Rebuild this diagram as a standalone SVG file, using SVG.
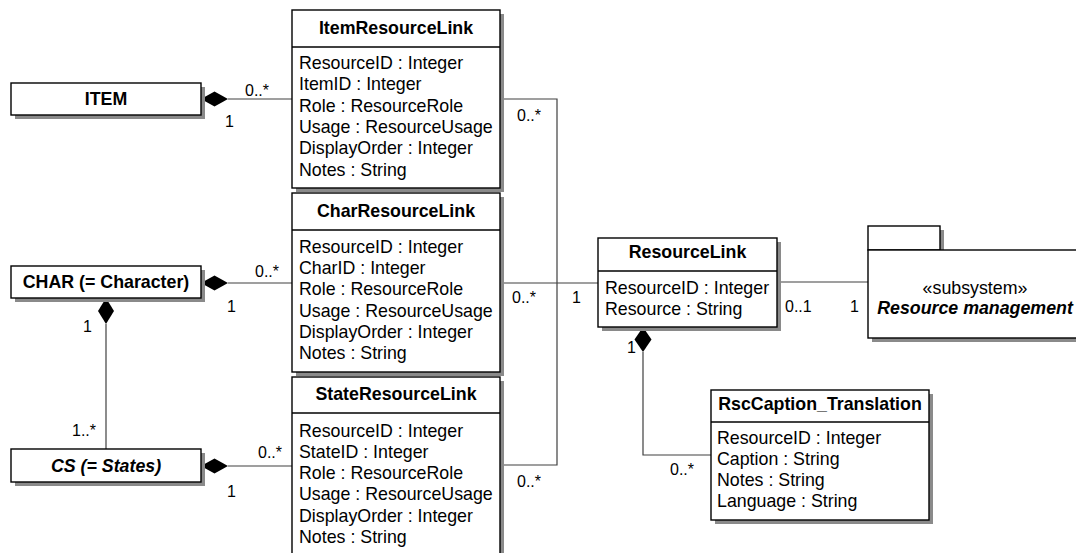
<svg xmlns="http://www.w3.org/2000/svg" width="1076" height="553" viewBox="0 0 1076 553">
<style>
.box{fill:#fff;stroke:#000;stroke-width:1.4}
.sh{fill:#8a8a8a}
.t{font-family:"Liberation Sans",Arial,sans-serif;font-size:17.8px;fill:#000}
.b{font-weight:bold}
.c{text-anchor:middle}
.i{font-style:italic}
.lbl{font-family:"Liberation Sans",Arial,sans-serif;font-size:16px;fill:#000}
.ln{fill:none;stroke:#404040;stroke-width:1.2}
.dia{fill:#000}
</style>
<rect width="1076" height="553" fill="#fff"/>
<g id="connectors">
  <polyline class="ln" points="228,99 292,99"/>
  <polyline class="ln" points="228,283 292,283"/>
  <polyline class="ln" points="228,466 292,466"/>
  <polyline class="ln" points="106,324 106,449"/>
  <polyline class="ln" points="500,99 557,99 557,465 500,465"/>
  <polyline class="ln" points="500,283 598,283"/>
  <polyline class="ln" points="777,282 868,282"/>
  <polyline class="ln" points="643,352 643,455 711,455"/>
  <polygon class="dia" points="201,99 214.5,91.5 228,99 214.5,106.5"/>
  <polygon class="dia" points="201,283 214.5,275.5 228,283 214.5,290.5"/>
  <polygon class="dia" points="201,466 214.5,458.5 228,466 214.5,473.5"/>
  <polygon class="dia" points="106,298 114,311 106,324 98,311"/>
  <polygon class="dia" points="643,327 651.5,339.5 643,352 634.5,339.5"/>
  <text class="lbl" x="245" y="96">0..*</text>
  <text class="lbl" x="225" y="127">1</text>
  <text class="lbl" x="255" y="277">0..*</text>
  <text class="lbl" x="227" y="312">1</text>
  <text class="lbl" x="83" y="332">1</text>
  <text class="lbl" x="72" y="436">1..*</text>
  <text class="lbl" x="258" y="458">0..*</text>
  <text class="lbl" x="227" y="497">1</text>
  <text class="lbl" x="517" y="121">0..*</text>
  <text class="lbl" x="512" y="303">0..*</text>
  <text class="lbl" x="572" y="303">1</text>
  <text class="lbl" x="517" y="487">0..*</text>
  <text class="lbl" x="785" y="312">0..1</text>
  <text class="lbl" x="850" y="312">1</text>
  <text class="lbl" x="627" y="353">1</text>
  <text class="lbl" x="670" y="475">0..*</text>
</g>
<g id="item">
  <rect class="sh" x="15" y="87" width="190" height="32"/>
  <rect class="box" x="11" y="83" width="190" height="32"/>
  <text class="t b c" x="106" y="105">ITEM</text>
</g>
<g id="char">
  <rect class="sh" x="15" y="270" width="190" height="32"/>
  <rect class="box" x="11" y="266" width="190" height="32"/>
  <text class="t b c" x="106" y="288">CHAR (= Character)</text>
</g>
<g id="cs">
  <rect class="sh" x="15" y="453" width="190" height="33"/>
  <rect class="box" x="11" y="449" width="190" height="33"/>
  <text class="t b i c" x="106" y="472">CS (= States)</text>
</g>
<g id="itemResourceLink">
  <rect class="sh" x="296" y="14" width="208" height="178"/>
  <rect class="box" x="292" y="10" width="208" height="178"/>
  <line class="box" x1="292" y1="47" x2="500" y2="47"/>
  <text class="t b c" x="396" y="34">ItemResourceLink</text>
  <text class="t" x="299" y="69">ResourceID : Integer</text>
  <text class="t" x="299" y="90">ItemID : Integer</text>
  <text class="t" x="299" y="112">Role : ResourceRole</text>
  <text class="t" x="299" y="133">Usage : ResourceUsage</text>
  <text class="t" x="299" y="154">DisplayOrder : Integer</text>
  <text class="t" x="299" y="176">Notes : String</text>
</g>
<g id="charResourceLink">
  <rect class="sh" x="296" y="197" width="208" height="179"/>
  <rect class="box" x="292" y="193" width="208" height="179"/>
  <line class="box" x1="292" y1="230" x2="500" y2="230"/>
  <text class="t b c" x="396" y="217">CharResourceLink</text>
  <text class="t" x="299" y="253">ResourceID : Integer</text>
  <text class="t" x="299" y="274">CharID : Integer</text>
  <text class="t" x="299" y="295">Role : ResourceRole</text>
  <text class="t" x="299" y="317">Usage : ResourceUsage</text>
  <text class="t" x="299" y="338">DisplayOrder : Integer</text>
  <text class="t" x="299" y="359">Notes : String</text>
</g>
<g id="stateResourceLink">
  <rect class="sh" x="296" y="381" width="208" height="185"/>
  <rect class="box" x="292" y="377" width="208" height="185"/>
  <line class="box" x1="292" y1="413" x2="500" y2="413"/>
  <text class="t b c" x="396" y="400">StateResourceLink</text>
  <text class="t" x="299" y="437">ResourceID : Integer</text>
  <text class="t" x="299" y="458">StateID : Integer</text>
  <text class="t" x="299" y="479">Role : ResourceRole</text>
  <text class="t" x="299" y="500">Usage : ResourceUsage</text>
  <text class="t" x="299" y="522">DisplayOrder : Integer</text>
  <text class="t" x="299" y="543">Notes : String</text>
</g>
<g id="resourceLink">
  <rect class="sh" x="602" y="242" width="179" height="89"/>
  <rect class="box" x="598" y="238" width="179" height="89"/>
  <line class="box" x1="598" y1="271" x2="777" y2="271"/>
  <text class="t b c" x="687.5" y="258">ResourceLink</text>
  <text class="t" x="605" y="294">ResourceID : Integer</text>
  <text class="t" x="605" y="315">Resource : String</text>
</g>
<g id="resourceManagement">
  <rect class="sh" x="872" y="230" width="72" height="24"/>
  <rect class="sh" x="872" y="254" width="214" height="88"/>
  <rect class="box" x="868" y="226" width="72" height="24"/>
  <rect class="box" x="868" y="250" width="214" height="88"/>
  <text class="t c" x="975" y="294">«subsystem»</text>
  <text class="t b i c" x="975" y="314">Resource management</text>
</g>
<g id="rscCaptionTranslation">
  <rect class="sh" x="715" y="394" width="218" height="130"/>
  <rect class="box" x="711" y="390" width="218" height="130"/>
  <line class="box" x1="711" y1="422" x2="929" y2="422"/>
  <text class="t b c" x="820" y="410">RscCaption_Translation</text>
  <text class="t" x="717" y="444">ResourceID : Integer</text>
  <text class="t" x="717" y="465">Caption : String</text>
  <text class="t" x="717" y="486">Notes : String</text>
  <text class="t" x="717" y="507">Language : String</text>
</g>
</svg>
